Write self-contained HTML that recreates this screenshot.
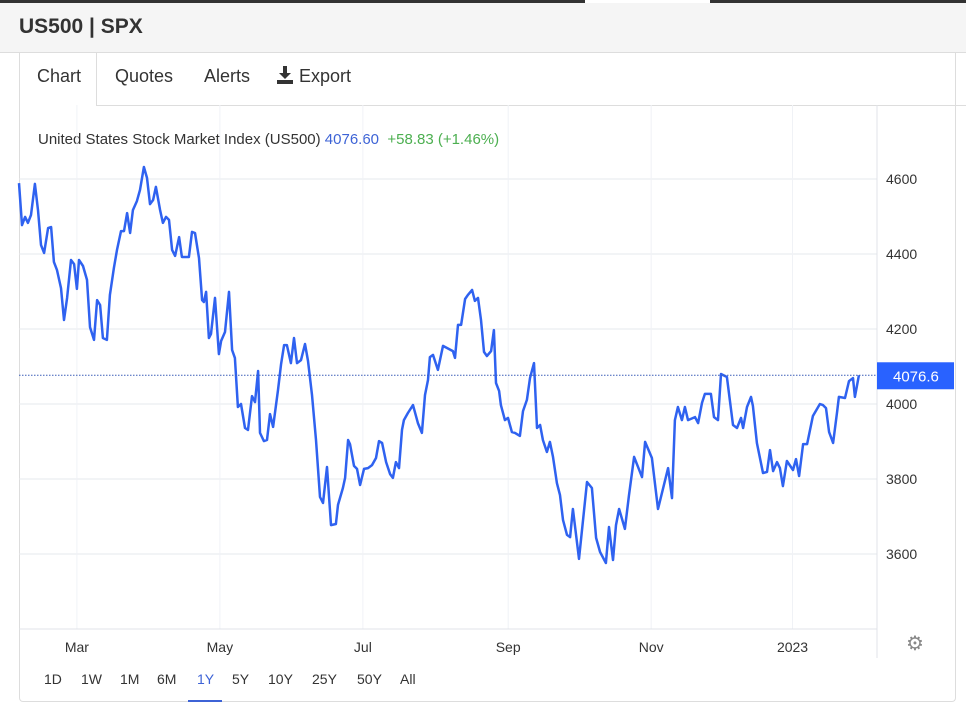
<!DOCTYPE html>
<html><head><meta charset="utf-8">
<style>
body{margin:0;width:966px;height:709px;background:#fff;font-family:"Liberation Sans",Arial,sans-serif;position:relative;overflow:hidden}
.abs{position:absolute}
.tab{position:absolute;top:66px;font-size:18px;color:#333}
.rng{position:absolute;top:671px;font-size:14px;color:#333}
</style></head><body>
<div class="abs" style="left:0;top:0;width:585px;height:3px;background:#333"></div>
<div class="abs" style="left:710px;top:0;width:256px;height:3px;background:#333"></div>
<div class="abs" style="left:0;top:3px;width:966px;height:49px;background:#f5f5f5;border-bottom:1px solid #ddd"></div>
<div class="abs" style="left:19px;top:15px;font-size:21px;font-weight:bold;color:#333">US500 | SPX</div>
<div class="abs" style="left:96px;top:105px;width:870px;height:1px;background:#ddd"></div>
<div class="abs" style="left:19px;top:53px;width:935px;height:648px;border:1px solid #ddd;border-top:none;border-radius:0 0 4px 4px"></div>
<div class="abs" style="left:96px;top:53px;width:1px;height:52px;background:#ddd"></div>
<div class="tab" style="left:37px">Chart</div>
<div class="tab" style="left:115px">Quotes</div>
<div class="tab" style="left:204px">Alerts</div>
<div class="tab" style="left:276px"><svg width="18" height="18" viewBox="0 0 18 18" style="vertical-align:-2px"><rect x="7" y="0" width="4" height="8" fill="#333"/><polygon points="3,7 15,7 9,13" fill="#333"/><rect x="1" y="14" width="16" height="4" fill="#333"/></svg> Export</div>
<div class="abs" style="left:38px;top:131px;font-size:15px;color:#333">United States Stock Market Index (US500) <span style="color:#3d63d6">4076.60</span> &nbsp;<span style="color:#4caf50">+58.83 (+1.46%)</span></div>
<svg class="abs" style="left:0;top:0" width="966" height="709">
<g id="grid"></g><g id="yt"></g>
<line x1="19" y1="629" x2="877" y2="629" stroke="#e0e3e8"/>
<line x1="877" y1="105" x2="877" y2="658" stroke="#e0e3e8"/>
<path id="ln" fill="none" stroke="#2f62f0" stroke-width="2.5" stroke-linejoin="round"/>
<line id="last" x1="19" x2="877" stroke="#3d5fb8" stroke-width="1" stroke-dasharray="1.5,1.5"/>
<g id="lbl"></g>
<g id="xt"></g>
<text x="915" y="650" font-size="20" fill="#888" text-anchor="middle">⚙</text>
</svg>
<div class="rng" style="left:44px">1D</div>
<div class="rng" style="left:81px">1W</div>
<div class="rng" style="left:120px">1M</div>
<div class="rng" style="left:157px">6M</div>
<div class="rng" style="left:197px;color:#3d63d6">1Y</div>
<div class="abs" style="left:188px;top:700px;width:34px;height:2px;background:#3d63d6"></div>
<div class="rng" style="left:232px">5Y</div>
<div class="rng" style="left:268px">10Y</div>
<div class="rng" style="left:312px">25Y</div>
<div class="rng" style="left:357px">50Y</div>
<div class="rng" style="left:400px">All</div>
<script>
// day offsets (days since series start) and closing values
const days=[0,1.3,2.6,3.8,5.1,6.8,8.1,9.4,10.7,12.4,13.7,14.9,16.2,17.9,19.2,20.5,22.2,23.5,24.7,25.6,27.3,29,30.3,32,33.3,34.6,35.8,37.5,38.8,40.5,41.8,43.5,44.8,46.1,47.4,48.6,50.3,51.6,53.3,54.6,55.9,57.2,58.4,60.2,61.4,62.7,64,65.3,66.6,68.3,69.5,72.5,73.8,75.1,76.8,78.1,78.9,79.8,81,81.9,83.6,85.3,86.2,87.9,89.6,90.9,92.1,93.4,94.7,96.4,97.7,99.4,100.7,102,102.8,104.5,105.8,107.1,108.4,110.5,111.8,113.1,114.3,116,117.3,118.6,120.3,122,123.3,125,126.7,128.4,129.7,131.4,133.1,135.2,136.1,138.2,139.1,140.4,141.2,142.9,144.2,145.5,147.2,148.9,150.6,152.3,153.6,154.9,156.6,158.3,159.5,160.8,162.1,163.4,164.2,165.9,168.1,170.2,171.9,173.2,174.5,175.3,176.6,178.7,180.9,185.1,186,187.3,188.6,190.3,191.5,193.3,194.5,195.8,197.1,198.4,199.6,201.4,202.6,203.5,204.8,205.6,207.3,208.6,210.3,211.6,213.7,215,216.7,218,219.7,221,222.3,223.5,225.2,226.5,227.8,229.5,230.8,232.1,233.8,235.1,236.3,238.9,242.3,244.4,246.2,247.9,250.4,251.7,253.4,254.7,256,258.5,260.2,262.4,265.8,267.1,270,272.6,276.9,278.6,279.8,281.1,282.8,284.1,285.4,288.4,289.7,291.4,292.6,295.2,296.5,298.2,299.5,302,304.6,306.3,308,308.9,310.6,312.3,313.1,314.8,317.4,319.1,320.4,321.7,323.4,324.6,325.9,327.6,330.2,331.5,332.8,334.5,336.2,338.7,341.7,343,344.3,345.6,347.3,349,349.8,352.4,354.1,355.8,356.6,358.3];
const values=[4589,4477,4499,4483,4504,4587,4517,4424,4403,4469,4472,4379,4357,4309,4224,4283,4384,4373,4307,4384,4368,4331,4205,4171,4277,4264,4176,4171,4291,4363,4411,4461,4461,4509,4456,4517,4541,4571,4632,4603,4533,4544,4579,4517,4483,4499,4491,4411,4395,4445,4392,4392,4459,4456,4389,4277,4272,4299,4176,4187,4283,4133,4168,4192,4299,4144,4123,3992,4000,3936,3931,4021,4005,4088,3923,3901,3904,3973,3939,4037,4107,4157,4157,4109,4176,4109,4117,4160,4115,4024,3904,3752,3736,3832,3677,3680,3731,3776,3803,3904,3893,3835,3827,3784,3827,3829,3837,3856,3901,3896,3845,3813,3803,3845,3829,3931,3957,3976,3997,3949,3923,4024,4064,4125,4131,4091,4155,4141,4123,4211,4211,4280,4291,4304,4275,4283,4224,4139,4128,4141,4197,4056,4035,3997,3957,3963,3925,3923,3915,3981,4011,4069,4109,3936,3944,3904,3872,3899,3859,3789,3757,3691,3651,3645,3720,3587,3792,3776,3643,3605,3576,3672,3584,3677,3720,3667,3755,3859,3805,3899,3856,3720,3829,3749,3957,3992,3957,3992,3957,3965,3949,4003,4027,4027,3965,3957,4080,4072,3944,3936,3963,3936,3992,4019,3995,3896,3816,3819,3877,3821,3845,3829,3781,3848,3824,3853,3808,3893,3893,3968,4000,3997,3989,3925,3896,3979,4019,4016,4061,4069,4019,4076.6];
const yTicks=[4600,4400,4200,4000,3800,3600];
const xLabels=["Mar","May","Jul","Sep","Nov","2023"];
const xTickDays=[24.7,85.7,146.7,208.7,269.7,330];
const lastPrice=4076.6;
const X0=19,PXD=2.344,Y0=179,PX=0.375;
const ys=v=>Y0+(4600-v)*PX;
const xs=d=>X0+d*PXD;
const NS="http://www.w3.org/2000/svg";
const grid=document.getElementById('grid'),yt=document.getElementById('yt'),xt=document.getElementById('xt');
yTicks.forEach(v=>{
const l=document.createElementNS(NS,'line');
l.setAttribute('x1',19);l.setAttribute('x2',877);l.setAttribute('y1',ys(v));l.setAttribute('y2',ys(v));l.setAttribute('stroke','#e6e8ec');


grid.appendChild(l);
const t=document.createElementNS(NS,'text');
t.setAttribute('x',886);t.setAttribute('y',ys(v)+5);t.setAttribute('font-size','14');t.setAttribute('fill','#333');t.textContent=v;


yt.appendChild(t);
});
xLabels.forEach((s,i)=>{
const x=xs(xTickDays[i]);
const l=document.createElementNS(NS,'line');
l.setAttribute('x1',x);l.setAttribute('x2',x);l.setAttribute('y1',105);l.setAttribute('y2',629);l.setAttribute('stroke','#f0f2f6');


grid.appendChild(l);
const t=document.createElementNS(NS,'text');
t.setAttribute('x',x);t.setAttribute('y',652);t.setAttribute('font-size','14');t.setAttribute('fill','#333');t.setAttribute('text-anchor','middle');t.textContent=s;


xt.appendChild(t);
});
document.getElementById('ln').setAttribute('d',values.map((v,i)=>(i?'L':'M')+xs(days[i]).toFixed(1)+','+ys(v).toFixed(1)).join(''));
const ly=ys(lastPrice);
const last=document.getElementById('last');last.setAttribute('y1',ly);last.setAttribute('y2',ly);
const g=document.getElementById('lbl');
const r=document.createElementNS(NS,'rect');
r.setAttribute('x',877);r.setAttribute('y',ly-13);r.setAttribute('width',77);r.setAttribute('height',27);r.setAttribute('fill','#2962ff');


g.appendChild(r);
const t=document.createElementNS(NS,'text');
t.setAttribute('x',893);t.setAttribute('y',ly+6);t.setAttribute('font-size','15');t.setAttribute('fill','#fff');t.textContent=lastPrice.toFixed(1);


g.appendChild(t);
</script>
</body></html>
